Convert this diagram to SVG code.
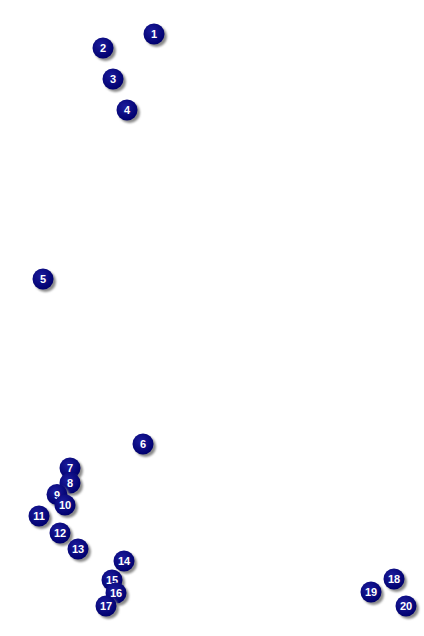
<svg xmlns="http://www.w3.org/2000/svg" width="424" height="636" viewBox="0 0 424 636">
<defs>
<radialGradient id="g" cx="40%" cy="35%" r="65%">
<stop offset="0" stop-color="#1c1c9c"/>
<stop offset="1" stop-color="#00006e"/>
</radialGradient>
<filter id="sh" x="-50%" y="-50%" width="200%" height="200%">
<feGaussianBlur stdDeviation="1"/>
</filter>
</defs>
<style>
.s{fill:#8a8a8a;filter:url(#sh)}
.c{fill:url(#g)}
.t{fill:#fff;font-family:"Liberation Sans",Arial,sans-serif;font-weight:bold;font-size:11px;text-anchor:middle}
</style>
<rect width="424" height="636" fill="#fff"/>
<g id="connectors"/>
<g id="n1"><circle class="s" cx="156.5" cy="36.5" r="10.5"/><circle class="c" cx="154" cy="34" r="10.5"/><text class="t" x="154" y="38">1</text></g>
<g id="n2"><circle class="s" cx="105.5" cy="50.5" r="10.5"/><circle class="c" cx="103" cy="48" r="10.5"/><text class="t" x="103" y="52">2</text></g>
<g id="n3"><circle class="s" cx="115.5" cy="81.5" r="10.5"/><circle class="c" cx="113" cy="79" r="10.5"/><text class="t" x="113" y="83">3</text></g>
<g id="n4"><circle class="s" cx="129.5" cy="112.5" r="10.5"/><circle class="c" cx="127" cy="110" r="10.5"/><text class="t" x="127" y="114">4</text></g>
<g id="n5"><circle class="s" cx="45.5" cy="281.5" r="10.5"/><circle class="c" cx="43" cy="279" r="10.5"/><text class="t" x="43" y="283">5</text></g>
<g id="n6"><circle class="s" cx="145.5" cy="446.5" r="10.5"/><circle class="c" cx="143" cy="444" r="10.5"/><text class="t" x="143" y="448">6</text></g>
<g id="n7"><circle class="s" cx="72.5" cy="470.5" r="10.5"/><circle class="c" cx="70" cy="468" r="10.5"/><text class="t" x="70" y="472">7</text></g>
<g id="n8"><circle class="s" cx="72.5" cy="485.5" r="10.5"/><circle class="c" cx="70" cy="483" r="10.5"/><text class="t" x="70" y="487">8</text></g>
<g id="n9"><circle class="s" cx="59.5" cy="497" r="10.5"/><circle class="c" cx="57" cy="494.5" r="10.5"/><text class="t" x="57" y="498.5">9</text></g>
<g id="n10"><circle class="s" cx="67.5" cy="507.5" r="10.5"/><circle class="c" cx="65" cy="505" r="10.5"/><text class="t" x="65" y="509">10</text></g>
<g id="n11"><circle class="s" cx="41.5" cy="518.5" r="10.5"/><circle class="c" cx="39" cy="516" r="10.5"/><text class="t" x="39" y="520">11</text></g>
<g id="n12"><circle class="s" cx="62.5" cy="535.5" r="10.5"/><circle class="c" cx="60" cy="533" r="10.5"/><text class="t" x="60" y="537">12</text></g>
<g id="n13"><circle class="s" cx="80.5" cy="551.5" r="10.5"/><circle class="c" cx="78" cy="549" r="10.5"/><text class="t" x="78" y="553">13</text></g>
<g id="n14"><circle class="s" cx="126.5" cy="563.5" r="10.5"/><circle class="c" cx="124" cy="561" r="10.5"/><text class="t" x="124" y="565">14</text></g>
<g id="n15"><circle class="s" cx="114.5" cy="582.5" r="10.5"/><circle class="c" cx="112" cy="580" r="10.5"/><text class="t" x="112" y="584">15</text></g>
<g id="n16"><circle class="s" cx="118.5" cy="595.5" r="10.5"/><circle class="c" cx="116" cy="593" r="10.5"/><text class="t" x="116" y="597">16</text></g>
<g id="n17"><circle class="s" cx="108.5" cy="608.5" r="10.5"/><circle class="c" cx="106" cy="606" r="10.5"/><text class="t" x="106" y="610">17</text></g>
<g id="n18"><circle class="s" cx="396.5" cy="581.5" r="10.5"/><circle class="c" cx="394" cy="579" r="10.5"/><text class="t" x="394" y="583">18</text></g>
<g id="n19"><circle class="s" cx="373.5" cy="594.5" r="10.5"/><circle class="c" cx="371" cy="592" r="10.5"/><text class="t" x="371" y="596">19</text></g>
<g id="n20"><circle class="s" cx="408.5" cy="608.5" r="10.5"/><circle class="c" cx="406" cy="606" r="10.5"/><text class="t" x="406" y="610">20</text></g>
</svg>
